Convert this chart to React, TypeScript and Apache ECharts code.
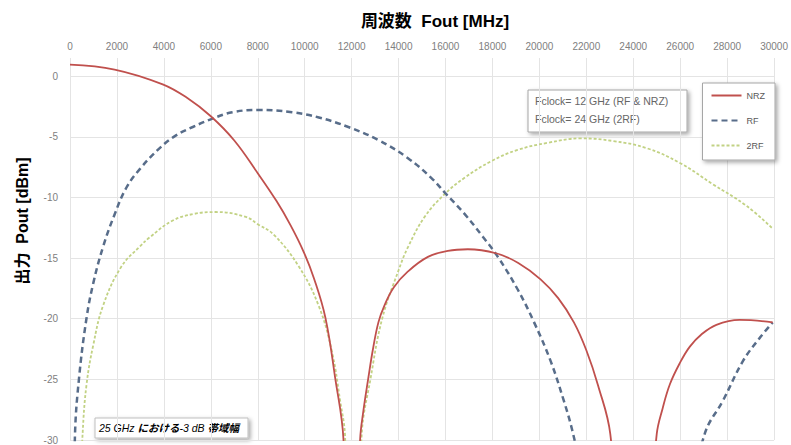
import React, { useEffect, useRef } from "react";
import * as echarts from "echarts";

const FONT = "'Liberation Sans', Arial, 'Noto Sans CJK JP', sans-serif";

const seriesNames = ["NRZ", "RF", "2RF"];

// [frequency MHz, output dBm]
const nrzPoints: number[][] = [
  [0, 0.95], [1900, 0.55], [3950, -0.67], [5000, -1.8], [6000, -3.3], [7000, -5.3],
  [8000, -8.0], [8800, -10.3], [9400, -12.3], [9960, -14.5], [10400, -16.7],
  [10880, -19.9], [11300, -24.9], [11650, -29.9], [12000, -50], [12360, -30],
  [12500, -27.6], [12710, -24.9], [12900, -22.6], [13140, -20.3], [13400, -18.9],
  [13800, -17.4], [14400, -16.1], [15250, -14.9], [16100, -14.4], [16950, -14.27],
  [18150, -14.6], [19100, -15.4], [20050, -16.75], [20800, -18.3], [21470, -20.3],
  [22000, -22.6], [22500, -25.5], [23020, -29.5], [24000, -50], [25000, -29.5],
  [25250, -27.4], [25560, -25.4], [26000, -23.6], [26410, -22.3], [26900, -21.3],
  [27540, -20.5], [28530, -20.1], [29940, -20.3],
];

const rfPoints: number[][] = [
  [0, -50], [212, -29.6], [380, -25], [700, -20], [1000, -17.0], [1412, -14.05],
  [1900, -11.4], [2400, -9.2], [3000, -7.6], [3810, -5.95], [4500, -4.9], [5230, -4.19],
  [6070, -3.5], [6920, -2.97], [8050, -2.78], [9460, -2.97], [10600, -3.4],
  [11860, -4.19], [13140, -5.27], [14400, -6.76], [15390, -8.38], [16030, -9.73],
  [16810, -11.35], [17590, -13.24], [18220, -14.87], [19070, -17.57], [19770, -20.28],
  [20480, -23.5], [21040, -26.76], [21400, -29.2], [24000, -50], [27050, -29.46],
  [27820, -26.76], [28670, -23.5], [29380, -21.6], [29940, -20.3],
];

const rf2Points: number[][] = [
  [0, -50], [540, -29.4], [706, -25.4], [988, -22.2], [1412, -18.9], [2190, -15.7],
  [2970, -14.05], [3390, -13.3], [4380, -11.9], [5300, -11.35], [6215, -11.2],
  [7490, -11.6], [8000, -12.2], [8700, -13.1], [9745, -15.68], [10590, -18.9],
  [11160, -22.7], [11510, -26.76], [11720, -29.7], [12000, -50], [12430, -29.5],
  [12800, -25], [13300, -20], [14000, -16], [14400, -14.1], [15110, -11.6],
  [15960, -9.73], [16810, -8.38], [17940, -7.02], [19070, -6.08], [20340, -5.5],
  [21750, -5.13], [23160, -5.35], [24580, -5.94], [25990, -7.16], [27400, -8.92],
  [28810, -10.67], [29940, -12.57],
];

const xMin = 0;
const xMax = 30000;
const xStep = 2000;
const yMin = -30;
const yMax = 1.5;
const yStep = 5;

const xTitle = "周波数  Fout [MHz]";
const yTitle = "出力  Pout [dBm]";
const noteLines = ["Fclock= 12 GHz (RF & NRZ)", "Fclock= 24 GHz (2RF)"];
const bandNote = ["25 GHz ", "における", "-3 dB ", "帯域幅"];

export default function App() {
  const ref = useRef<HTMLDivElement>(null);
  useEffect(() => {
    if (!ref.current) return;
    const chart = echarts.init(ref.current, undefined, { renderer: "svg" });
    const shadow = {
      shadowBlur: 4,
      shadowColor: "rgba(0,0,0,0.35)",
      shadowOffsetX: 2,
      shadowOffsetY: 2,
    };
    chart.setOption({
      animation: false,
      backgroundColor: "#fff",
      grid: { left: 70, top: 58, width: 708, height: 388.5 },
      xAxis: {
        type: "value",
        position: "top",
        min: xMin,
        max: xMax,
        interval: xStep,
        axisLine: { show: false },
        axisTick: { show: false },
        axisLabel: {
          fontSize: 10,
          color: "#808080",
          margin: 7,
          fontFamily: FONT,
          formatter: (v: number) => String(v),
        },
        splitLine: { show: true, lineStyle: { color: "#e4e4e4", width: 1 } },
      },
      yAxis: {
        type: "value",
        min: yMin,
        max: yMax,
        interval: yStep,
        axisLine: { show: false },
        axisTick: { show: false },
        axisLabel: {
          fontSize: 10,
          color: "#808080",
          margin: 12,
          fontFamily: FONT,
          showMaxLabel: false,
          formatter: (v: number) => (v % 5 === 0 ? String(v) : ""),
        },
        splitLine: { show: true, showMaxLine: false, lineStyle: { color: "#e4e4e4", width: 1 } },
      },
      legend: {
        data: seriesNames,
        orient: "vertical",
        right: 16,
        top: 83,
        itemWidth: 30,
        itemHeight: 10,
        itemGap: 16,
        padding: [8, 10, 10, 8],
        backgroundColor: "#fff",
        borderColor: "#a6a6a6",
        borderWidth: 1,
        ...shadow,
        itemStyle: { opacity: 0 },
        textStyle: { fontSize: 9, color: "#595959", fontFamily: FONT },
      },
      series: [
        {
          name: seriesNames[0],
          type: "line",
          data: nrzPoints,
          symbol: "none",
          smooth: 0.4,
          lineStyle: { color: "#c0504d", width: 1.8 },
          itemStyle: { color: "#c0504d" },
          z: 3,
        },
        {
          name: seriesNames[1],
          type: "line",
          data: rfPoints,
          symbol: "none",
          smooth: 0.4,
          lineStyle: { color: "#586d8a", width: 2.5, type: [6, 4] },
          itemStyle: { color: "#586d8a" },
          z: 2,
        },
        {
          name: seriesNames[2],
          type: "line",
          data: rf2Points,
          symbol: "none",
          smooth: 0.4,
          lineStyle: { color: "#c2d284", width: 1.8, type: [3, 2] },
          itemStyle: { color: "#c2d284" },
          z: 1,
        },
      ],
      graphic: [
        {
          type: "text",
          x: 435,
          y: 21,
          z: 100,
          style: {
            text: xTitle,
            align: "center",
            verticalAlign: "middle",
            fontSize: 17,
            fontWeight: "bold",
            fontFamily: FONT,
            fill: "#000",
          },
        },
        {
          type: "text",
          x: 22,
          y: 221,
          rotation: Math.PI / 2,
          z: 100,
          style: {
            text: yTitle,
            align: "center",
            verticalAlign: "middle",
            fontSize: 16,
            fontWeight: "bold",
            fontFamily: FONT,
            fill: "#000",
          },
        },
        {
          type: "group",
          z: 100,
          children: [
            {
              type: "rect",
              shape: { x: 528, y: 90, width: 159, height: 42 },
              style: { fill: "#fff", stroke: "#a6a6a6", lineWidth: 1, ...shadow },
            },
            {
              type: "text",
              x: 535,
              y: 101,
              style: {
                text: noteLines[0],
                verticalAlign: "middle",
                fontSize: 10.5,
                fontFamily: FONT,
                fill: "#666",
              },
            },
            {
              type: "text",
              x: 535,
              y: 119,
              style: {
                text: noteLines[1],
                verticalAlign: "middle",
                fontSize: 10.5,
                fontFamily: FONT,
                fill: "#666",
              },
            },
          ],
        },
        {
          type: "group",
          z: 100,
          children: [
            {
              type: "rect",
              shape: { x: 95, y: 418, width: 153, height: 20 },
              style: { fill: "#fff", stroke: "#bfbfbf", lineWidth: 1, ...shadow },
            },
            {
              type: "text",
              x: 99,
              y: 428,
              style: {
                text: `{a|${bandNote[0]}}{b|${bandNote[1]}}{a|${bandNote[2]}}{b|${bandNote[3]}}`,
                verticalAlign: "middle",
                rich: {
                  a: { fontSize: 10.5, fontStyle: "italic", fontFamily: FONT, fill: "#000" },
                  b: {
                    fontSize: 10.5,
                    fontStyle: "italic",
                    fontWeight: "bold",
                    fontFamily: FONT,
                    fill: "#000",
                  },
                },
              },
            },
          ],
        },
      ],
    });
    return () => chart.dispose();
  }, []);
  return (
    <div
      ref={ref}
      style={{ position: "fixed", left: 0, top: 0, width: 791, height: 445, background: "#fff" }}
    />
  );
}
